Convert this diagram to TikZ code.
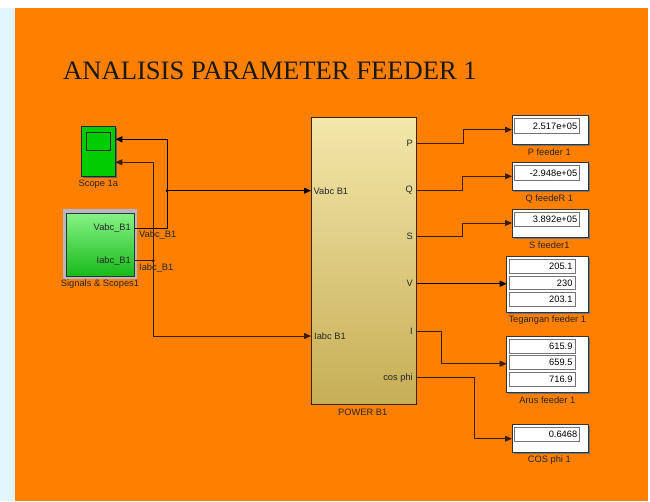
\documentclass[tikz,border=0pt]{standalone}
\usepackage{fontspec}
\setmainfont{Liberation Sans}
\newfontfamily\titlefont{Liberation Serif}
\usetikzlibrary{arrows.meta}
\definecolor{bgorange}{HTML}{FF8000}
\definecolor{wire}{HTML}{3A1E00}
\definecolor{scopegreen}{HTML}{00CC00}
\definecolor{pwtop}{HTML}{F3E7AA}
\definecolor{pwbot}{HTML}{C6AE55}
\definecolor{frame}{HTML}{B4B8C6}
\tikzset{
  lbl/.style={font=\fontsize{9.3}{10}\selectfont, inner sep=0pt, text=black!85},
  sig/.style={draw=wire, line width=0.9pt, -{Triangle[length=7pt,width=6pt]}},
  plain/.style={draw=wire, line width=0.9pt},
  dispbox/.style={draw=black!80, fill=white, line width=0.8pt, inner sep=0pt},
  field/.style={draw=black!55, fill=white, line width=1pt, inner sep=0pt, minimum height=13.7pt,
     font=\fontsize{9.3}{10}\selectfont, align=right, text width=61pt},
  shadowbox/.style={fill=black!55, draw=none, inner sep=0pt},
}
\begin{document}
\begin{tikzpicture}[x=1pt,y=-1pt]
\useasboundingbox (0,0) rectangle (650,501);
\fill[white] (0,0) rectangle (650,501);
\fill[cyan!12] (0,8) rectangle (15,501);
\fill[bgorange] (15,8) rectangle (648,501);

% title
\node[anchor=base west, inner sep=0pt, font=\titlefont\fontsize{26.6}{27}\selectfont, text=black!90] (title) at (63,79) {ANALISIS PARAMETER FEEDER 1};

% Scope 1a
\node[fill=black!60, minimum width=34pt, minimum height=50pt, inner sep=0pt] (scopesh) at (99.8,152.5) {};
\node[draw=black!85, fill=scopegreen, line width=0.8pt, minimum width=34pt, minimum height=50pt, inner sep=0pt] (scope) at (98.3,151) {};
\node[draw=black!85, fill=scopegreen, line width=0.8pt, minimum width=24.7pt, minimum height=18.4pt, inner sep=0pt] (screen) at (98.3,141.5) {};
\node[lbl] (scopelbl) at (98.3,184) {Scope 1a};
\coordinate (scopeIn1) at (115.3,139.3);
\coordinate (scopeIn2) at (115.3,162.3);

% Signals & Scopes1
\node[fill=frame, minimum width=74.6pt, minimum height=69.4pt, inner sep=0pt] (sigframe) at (100,244) {};
\node[draw=black!80, line width=0.8pt, top color=green!45!white!95!black, bottom color=green!70!black!90, minimum width=68pt, minimum height=62.7pt, inner sep=0pt] (sig) at (100.7,244.7) {};
\node[lbl, anchor=east] (sigVlbl) at (131,228) {Vabc\_B1};
\node[lbl, anchor=east] (sigIlbl) at (131,261) {Iabc\_B1};
\node[lbl] (siglbl) at (100,284) {Signals \& Scopes1};
\coordinate (sigV) at (134.7,228);
\coordinate (sigI) at (134.7,260.7);

% POWER B1
\node[draw=black!70!brown, line width=0.8pt, top color=pwtop, bottom color=pwbot, minimum width=105pt, minimum height=287pt, inner sep=0pt] (power) at (363.5,260.8) {};
\node[lbl] (powerlbl) at (362.7,412) {POWER B1};
\node[lbl, anchor=west] (pVin) at (313.5,190.7) {Vabc B1};
\node[lbl, anchor=west] (pIin) at (314,336) {Iabc B1};
\node[lbl, anchor=east] (pPl) at (413,143.7) {P};
\node[lbl, anchor=east] (pQl) at (413,190) {Q};
\node[lbl, anchor=east] (pSl) at (413,236.7) {S};
\node[lbl, anchor=east] (pVl) at (413,283.7) {V};
\node[lbl, anchor=east] (pIl) at (413,331) {I};
\node[lbl, anchor=east] (pCl) at (413,377.7) {cos phi};
\coordinate (pwVin) at (311,190.7);
\coordinate (pwIin) at (311,336);
\coordinate (pwP) at (416,143.7);
\coordinate (pwQ) at (416,190);
\coordinate (pwS) at (416,236.7);
\coordinate (pwV) at (416,283.7);
\coordinate (pwI) at (416,331);
\coordinate (pwC) at (416,377.7);

% single displays
\foreach \nm/\cy/\fy/\val/\lab in {dP/129.85/125.85/2.517e+05/P feeder 1, dQ/176.7/172.85/-2.948e+05/Q feedeR 1, dS/223.3/219.7/3.892e+05/S feeder1, dC/438.5/434.5/0.6468/COS phi 1}{
  \node[shadowbox, minimum width=76pt, minimum height=28.3pt] (\nm sh) at (551.5,\cy+1.5) {};
  \node[dispbox, minimum width=76pt, minimum height=28.3pt] (\nm) at (550,\cy) {};
  \node[field, minimum width=65.3pt, minimum height=14.3pt] (\nm f) at (546.7,\fy) {\val};
  \node[lbl] (\nm l) at (549.3,\cy+21.9) {\lab};
}
% triple displays
\foreach \nm/\cy/\fa/\fb/\fc/\va/\vb/\vc/\lab in {dV/284.3/266.2/282.9/299.7/205.1/230/203.1/Tegangan feeder 1, dI/364.15/346.2/362.7/379.2/615.9/659.5/716.9/Arus feeder 1}{
  \node[shadowbox, minimum width=81.3pt, minimum height=56pt] (\nm sh) at (548.85,\cy+1.5) {};
  \node[dispbox, minimum width=81.3pt, minimum height=56pt] (\nm) at (547.35,\cy) {};
  \node[field, minimum width=66pt] (\nm fa) at (542,\fa) {\va};
  \node[field, minimum width=66pt] (\nm fb) at (542,\fb) {\vb};
  \node[field, minimum width=66pt] (\nm fc) at (542,\fc) {\vc};
  \node[lbl] (\nm l) at (547.3,\cy+36) {\lab};
}
\coordinate (dPin) at (512,129.7);
\coordinate (dQin) at (512,176.3);
\coordinate (dSin) at (512,223);
\coordinate (dVin) at (506.7,283.7);
\coordinate (dIin) at (506.7,363.7);
\coordinate (dCin) at (512,438.7);

% left wiring
\coordinate (jV) at (167.3,190.7);
\coordinate (jI) at (153.3,260.7);
\draw[sig, draw=black] (sigV) -| (jV) |- (scopeIn1);
\draw[sig, draw=black] (jV) -- (pwVin);
\fill[black] (jV) circle (1.6);
\draw[plain] (sigI) -- (jI);
\draw[sig] (jI) |- (scopeIn2);
\draw[sig] (jI) |- (pwIin);
\fill[wire] (jI) circle (1.6);
\node[lbl, anchor=west] (wVl) at (139,235) {Vabc\_B1};
\node[lbl, anchor=west] (wIl) at (139,268) {Iabc\_B1};

% right wiring
\draw[sig] (pwP) -- ++(47.3,0) |- (dPin);
\draw[sig] (pwQ) -- ++(46,0) |- (dQin);
\draw[sig] (pwS) -- ++(46,0) |- (dSin);
\draw[sig, draw=black] (pwV) -- (dVin);
\draw[sig] (pwI) -- ++(25.3,0) |- (dIin);
\draw[sig] (pwC) -- ++(58.7,0) |- (dCin);
\end{tikzpicture}
\end{document}
